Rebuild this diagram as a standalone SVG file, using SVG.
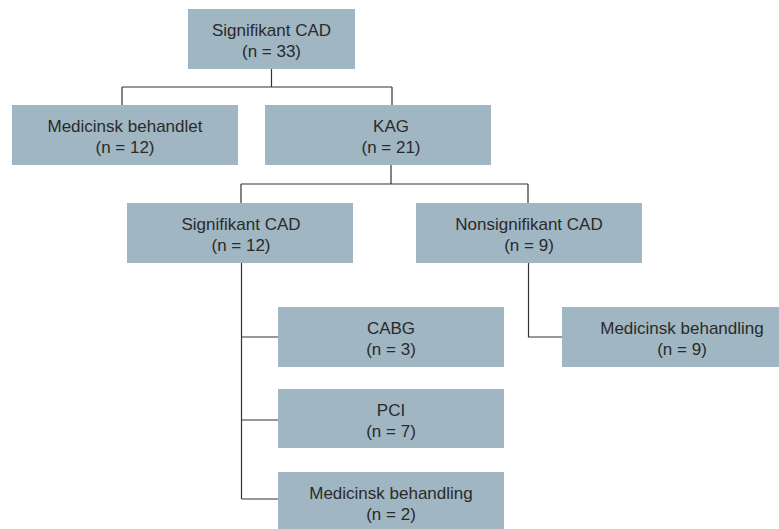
<svg xmlns="http://www.w3.org/2000/svg" width="779" height="529" viewBox="0 0 779 529">
<style>
.box{fill:#a0b6c2}
.t{font-family:"Liberation Sans",Arial,sans-serif;font-size:17px;fill:#2a2a2a;text-anchor:middle}
.c{fill:none;stroke:#333;stroke-width:1.2}
</style>
<rect width="779" height="529" fill="#fff"/>
<g id="connectors">
<path class="c" d="M271.5 69V87M122 87H392M122 87V105M392 87V105"/>
<path class="c" d="M391 165V184M241 184H528M241 184V203M528 184V203"/>
<path class="c" d="M241.5 263V499M241.5 337H278M241.5 420H278M241.5 499H278"/>
<path class="c" d="M528.5 263V337H562"/>
</g>
<g id="n1"><rect class="box" x="188" y="9" width="167" height="60"/><text class="t" x="271.5" y="36">Signifikant CAD</text><text class="t" x="271.5" y="57">(n = 33)</text></g>
<g id="n2"><rect class="box" x="12" y="105" width="226" height="60"/><text class="t" x="125" y="132">Medicinsk behandlet</text><text class="t" x="125" y="153">(n = 12)</text></g>
<g id="n3"><rect class="box" x="265" y="105" width="226" height="60"/><text class="t" x="391" y="132">KAG</text><text class="t" x="391" y="153">(n = 21)</text></g>
<g id="n4"><rect class="box" x="127" y="203" width="226" height="60"/><text class="t" x="241" y="230">Signifikant CAD</text><text class="t" x="241" y="251">(n = 12)</text></g>
<g id="n5"><rect class="box" x="416" y="203" width="226" height="60"/><text class="t" x="529" y="230">Nonsignifikant CAD</text><text class="t" x="529" y="251">(n = 9)</text></g>
<g id="n6"><rect class="box" x="278" y="307" width="226" height="60"/><text class="t" x="391" y="334">CABG</text><text class="t" x="391" y="355">(n = 3)</text></g>
<g id="n7"><rect class="box" x="562" y="307" width="226" height="60"/><text class="t" x="682" y="334">Medicinsk behandling</text><text class="t" x="682" y="355">(n = 9)</text></g>
<g id="n8"><rect class="box" x="278" y="389" width="226" height="59"/><text class="t" x="391" y="416">PCI</text><text class="t" x="391" y="437">(n = 7)</text></g>
<g id="n9"><rect class="box" x="278" y="472" width="226" height="60"/><text class="t" x="391" y="499">Medicinsk behandling</text><text class="t" x="391" y="520">(n = 2)</text></g>
</svg>
